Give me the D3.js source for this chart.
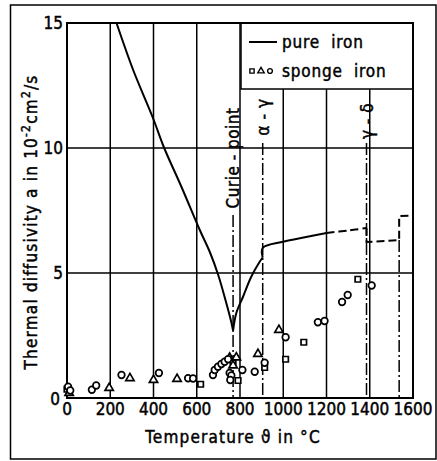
<!DOCTYPE html>
<html><head><meta charset="utf-8">
<script src="https://cdn.jsdelivr.net/npm/d3@7"></script>
<style>body{margin:0;background:#fff}svg{display:block}text{font-family:"DejaVu Sans Condensed","DejaVu Sans",sans-serif;fill:#000;stroke:#000;stroke-width:0.45px}</style>
</head><body><svg id="c" width="437" height="461"></svg>
<script>
const xTicks = [0,200,400,600,800,1000,1200,1400,1600];
const yTicks = [0,5,10,15];
const pureSolidA = [[229,15],[306,13.12],[398,11.19],[449,10.01],[529,8.45],[614,6.72],[660,5.85],[700,4.9],[735,3.85],[758,3.1],[768,2.7]];
const pureSolidB = [[768,2.7],[783,3.4],[814,4.05],[852,4.85],[891,5.45],[905,5.62]];
const pureSolidC = [[905,5.62],[905,6.0],[1000,6.25],[1100,6.43],[1200,6.6]];
const pureDashedA = [[1200,6.6],[1300,6.7],[1385,6.8]];
const pureDashedB = [[1385,6.8],[1385,6.24],[1536,6.32],[1536,7.28],[1595,7.3]];
const sqPts = [[0,0.35],[618,0.55],[768,1.45],[791,0.7],[914,1.22],[1011,1.55],[1095,2.23],[1345,4.75]];
const triPts = [[10,0.2],[195,0.4],[291,0.79],[400,0.72],[509,0.76],[752,1.61],[783,1.62],[768,1.3],[883,1.76],[980,2.72]];
const circPts = [[5,0.45],[15,0.3],[115,0.33],[135,0.5],[252,0.92],[425,1.0],[560,0.79],[583,0.78],[675,0.92],[683,1.12],[698,1.25],[714,1.36],[729,1.45],[745,1.55],[752,1.0],[760,0.9],[755,0.72],[811,1.12],[868,1.05],[914,1.41],[1011,2.43],[1160,3.03],[1191,3.08],[1272,3.84],[1298,4.12],[1409,4.5]];
const transitions = [{t:768,label:"Curie - point",top:215,ty:158},{t:905,label:"α - γ",top:143,ty:117},{t:1385,label:"γ - δ",top:143,ty:121},{t:1536,label:"",top:null}];

const svg = d3.select("#c");
const x = d3.scaleLinear().domain([0,1600]).range([67,413]);
const y = d3.scaleLinear().domain([0,15]).range([398,23]);

svg.append("path").attr("d","M10.5,459 V5 H436 V459 Z").attr("fill","none").attr("stroke","#000").attr("stroke-width",1.5);

svg.append("g").selectAll("line").data(xTicks.slice(1,-1)).join("line")
  .attr("x1",d=>x(d)).attr("x2",d=>x(d)).attr("y1",y(0)).attr("y2",y(15))
  .attr("stroke","#000").attr("stroke-width",1.5);
svg.append("g").selectAll("line").data([5,10]).join("line")
  .attr("x1",x(0)).attr("x2",x(1600)).attr("y1",d=>y(d)).attr("y2",d=>y(d))
  .attr("stroke","#000").attr("stroke-width",1.5);

svg.append("rect").attr("x",x(800)+1).attr("y",y(15)).attr("width",x(1600)-x(800)-1).attr("height",66)
  .attr("fill","#fff").attr("stroke","#000").attr("stroke-width",1.5);

svg.append("rect").attr("x",x(0)).attr("y",y(15)).attr("width",x(1600)-x(0)).attr("height",y(0)-y(15))
  .attr("fill","none").attr("stroke","#000").attr("stroke-width",2);

transitions.forEach(tr=>{
  const top = tr.top===null ? y(6.32) : tr.top;
  svg.append("line").attr("x1",x(tr.t)).attr("x2",x(tr.t)).attr("y1",top).attr("y2",y(0))
    .attr("stroke","#000").attr("stroke-width",1.5).attr("stroke-dasharray","12,3,2,3");
  if(tr.label){
    svg.append("text").attr("transform",`translate(${x(tr.t)+6},${tr.ty}) rotate(-90)`)
      .attr("text-anchor","middle").attr("font-size",17).attr("letter-spacing",0.5).text(tr.label);
  }
});

const line = d3.line().x(d=>x(d[0])).y(d=>y(d[1]));
const smooth = d3.line().x(d=>x(d[0])).y(d=>y(d[1])).curve(d3.curveCatmullRom);
[pureSolidA,pureSolidB,pureSolidC].forEach(d=>{
  svg.append("path").attr("d",smooth(d)).attr("fill","none").attr("stroke","#000").attr("stroke-width",2);
});
svg.append("path").attr("d",smooth(pureDashedA)).attr("fill","none").attr("stroke","#000").attr("stroke-width",2).attr("stroke-dasharray","8,4");
svg.append("path").attr("d",line(pureDashedB)).attr("fill","none").attr("stroke","#000").attr("stroke-width",2).attr("stroke-dasharray","8,4");

const mk = (pts,type,size)=>svg.append("g").selectAll("path").data(pts).join("path")
  .attr("transform",d=>`translate(${x(d[0])},${y(d[1])})`)
  .attr("d",d3.symbol().type(type).size(size)())
  .attr("fill","#fff").attr("stroke","#000").attr("stroke-width",1.7);
mk(sqPts,d3.symbolSquare,30);
mk(triPts,d3.symbolTriangle,30);
mk(circPts,d3.symbolCircle,34);

svg.append("g").selectAll("text").data(xTicks).join("text")
  .attr("x",d=>x(d)).attr("y",415).attr("text-anchor","middle").attr("font-size",17).text(d=>d);
svg.append("g").selectAll("text").data(yTicks).join("text")
  .attr("x",d=>d===0?60:63).attr("y",d=>d===0?405:y(d)+6).attr("text-anchor","end").attr("font-size",17).text(d=>d);

svg.append("text").attr("x",233).attr("y",443).attr("text-anchor","middle").attr("font-size",17).attr("letter-spacing",1.2)
  .text("Temperature ϑ in °C");
const yt = svg.append("text").attr("transform","translate(37,222) rotate(-90)").attr("text-anchor","middle").attr("font-size",17).attr("letter-spacing",1.2);
yt.append("tspan").text("Thermal diffusivity a in 10");
yt.append("tspan").attr("font-size",12).attr("dy",-7).text("-2");
yt.append("tspan").attr("dy",7).text("cm");
yt.append("tspan").attr("font-size",12).attr("dy",-7).text("2");
yt.append("tspan").attr("dy",7).text("/s");

svg.append("line").attr("x1",249).attr("x2",277).attr("y1",42).attr("y2",42).attr("stroke","#000").attr("stroke-width",2);
svg.append("text").attr("x",282).attr("y",48).attr("font-size",17).attr("letter-spacing",0.8).attr("xml:space","preserve").text("pure  iron");
const lg = [[d3.symbolSquare,252],[d3.symbolTriangle,261],[d3.symbolCircle,270]];
lg.forEach(([t,px])=>svg.append("path").attr("transform",`translate(${px},71)`).attr("d",d3.symbol().type(t).size(18)())
  .attr("fill","#fff").attr("stroke","#000").attr("stroke-width",1.4));
svg.append("text").attr("x",282).attr("y",77).attr("font-size",17).attr("letter-spacing",0.8).attr("xml:space","preserve").text("sponge  iron");
</script></body></html>
